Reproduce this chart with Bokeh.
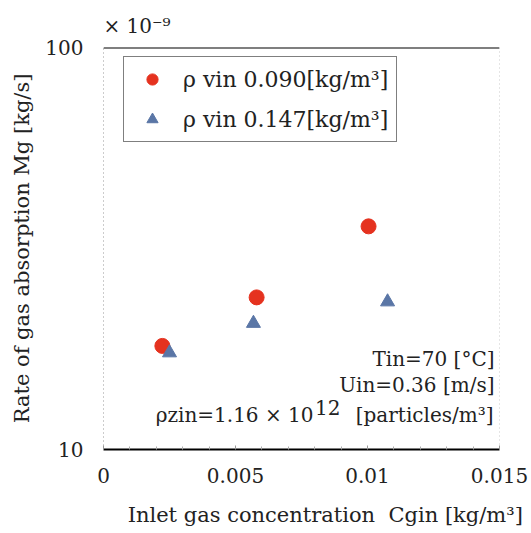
from bokeh.plotting import figure
from bokeh.models import (Legend, LegendItem, Label, Span, FixedTicker,
                          NumeralTickFormatter, Title, LinearAxis)
from bokeh.embed import file_html
from bokeh.resources import INLINE

# ---- data ----
x_090 = [0.00223, 0.00580, 0.01004]
y_090 = [18.1, 23.9, 35.9]
x_147 = [0.00250, 0.00568, 0.01076]
y_147 = [17.4, 20.6, 23.3]

x_ticks = [0, 0.005, 0.01, 0.015]
x_minor = [0.001, 0.002, 0.003, 0.004, 0.006, 0.007, 0.008, 0.009,
           0.011, 0.012, 0.013, 0.014]
y_ticks = [10, 100]

label_090 = "ρ vin 0.090[kg/m³]"
label_147 = "ρ vin 0.147[kg/m³]"
cond_lines = ["Tin=70 [°C]", "Uin=0.36 [m/s]"]
cond3_parts = ["ρzin=1.16 × 10", "12", "[particles/m³]"]
x_title = "Inlet gas concentration\u00a0\u00a0Cgin [kg/m³]"
y_title = "Rate of gas absorption Mg [kg/s]"
y_mult = "× 10⁻⁹"
x_title_at = 0.0084  # where the (off-centre) x title sits along the axis

FONT = "DejaVu Serif"
TXT = "#222222"
RED = "#e5321f"
BLUE = "#5a76a6"

p = figure(width=531, height=533, y_axis_type="log",
           x_range=(0, 0.015), y_range=(10, 100),
           output_backend="svg", toolbar_location=None,
           min_border_left=103, min_border_right=32,
           min_border_top=47, min_border_bottom=84)
p.background_fill_color = "white"
p.border_fill_color = "white"
p.outline_line_color = None
p.xgrid.visible = False
p.ygrid.visible = False

# x axis
xa = p.xaxis[0]
xa.ticker = FixedTicker(ticks=x_ticks, minor_ticks=x_minor)
xa.formatter = NumeralTickFormatter(format="0.[000]")
xa.axis_line_color = "black"
xa.axis_line_width = 2
xa.major_tick_in = 4
xa.major_tick_out = 0
xa.minor_tick_in = 3
xa.minor_tick_out = 0
xa.major_tick_line_color = "#999999"
xa.minor_tick_line_color = "#aaaaaa"
xa.major_label_text_font = FONT
xa.major_label_text_font_size = "20px"
xa.major_label_text_color = TXT
xa.major_label_standoff = 18

# second bottom axis that only carries the x title
xt = LinearAxis(ticker=FixedTicker(ticks=[x_title_at], minor_ticks=[]),
                major_label_overrides={x_title_at: x_title},
                axis_line_color=None, major_tick_line_color=None,
                minor_tick_line_color=None, major_tick_in=0, major_tick_out=0,
                major_label_standoff=17,
                major_label_text_font=FONT, major_label_text_font_size="21px",
                major_label_text_color=TXT)
p.add_layout(xt, "below")

# y axis
ya = p.yaxis[0]
ya.ticker = FixedTicker(ticks=y_ticks, minor_ticks=[])
ya.formatter = NumeralTickFormatter(format="0")
ya.axis_line_color = "#999999"
ya.axis_line_dash = "1 3"
ya.major_tick_in = 0
ya.major_tick_out = 0
ya.major_label_text_font = FONT
ya.major_label_text_font_size = "20px"
ya.major_label_text_color = TXT
ya.major_label_standoff = 20
ya.axis_label = y_title
ya.axis_label_text_font = FONT
ya.axis_label_text_font_size = "21px"
ya.axis_label_text_font_style = "normal"
ya.axis_label_text_color = TXT
ya.axis_label_standoff = 8

# frame top (solid) and right (dotted)
p.add_layout(Span(location=100, dimension="width", line_color="black", line_width=2))
p.add_layout(Span(location=0.015, dimension="height", line_color="#999999",
                  line_dash="1 3", line_width=1))

r1 = p.scatter(x_090, y_090, marker="circle", size=15, fill_color=RED,
               line_color=RED)
r2 = p.scatter(x_147, y_147, marker="triangle", size=14, fill_color=BLUE,
               line_color=BLUE)

legend = Legend(items=[LegendItem(label=label_090, renderers=[r1]),
                       LegendItem(label=label_147, renderers=[r2])],
                location=(20, 307))
legend.label_text_font = FONT
legend.label_text_font_size = "22px"
legend.label_text_color = TXT
legend.glyph_width = 40
legend.glyph_height = 28
legend.label_height = 28
legend.label_standoff = 11
legend.padding = 8
legend.spacing = 12
legend.border_line_color = "black"
legend.border_line_width = 1.5
legend.background_fill_color = "white"
legend.background_fill_alpha = 1
legend.margin = 0
p.add_layout(legend)

# conditions text, right-aligned at lower right of the frame
for txt, off in zip(cond_lines, [91, 65]):
    p.add_layout(Label(x=0.015, y=10, x_offset=-5, y_offset=off, text=txt,
                       text_align="right", text_baseline="middle",
                       text_font=FONT, text_font_size="20px",
                       text_color=TXT))
for txt, xo, yo in zip(cond3_parts, [-186, -159, -6], [35, 42, 35]):
    p.add_layout(Label(x=0.015, y=10, x_offset=xo, y_offset=yo, text=txt,
                       text_align="right", text_baseline="middle",
                       text_font=FONT, text_font_size="20px",
                       text_color=TXT))

# multiplier above top-left corner
t_mult = Title(text=y_mult, align="left", offset=0, standoff=20,
               text_font=FONT, text_font_size="20px",
               text_font_style="normal", text_color=TXT)
p.add_layout(t_mult, "above")

open("out.html", "w").write(file_html(p, INLINE))
